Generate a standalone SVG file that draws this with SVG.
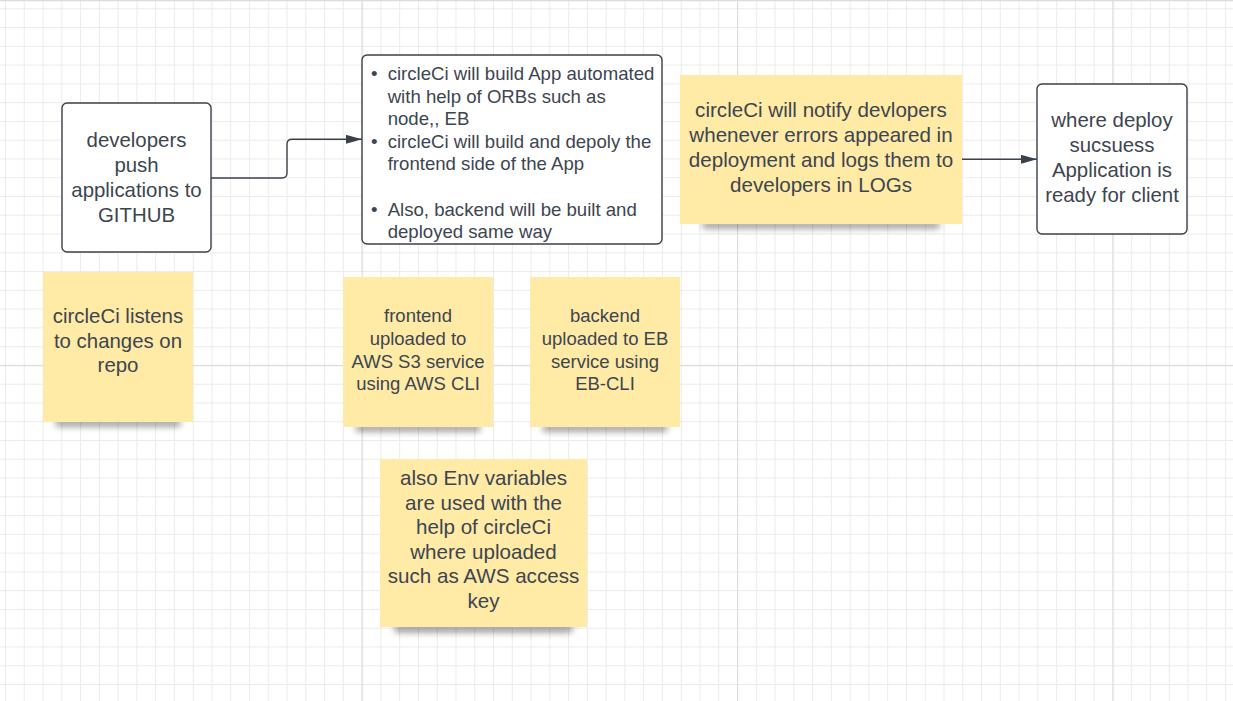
<svg xmlns="http://www.w3.org/2000/svg" width="1233" height="701" viewBox="0 0 1233 701">
<style>
.t{font-family:"Liberation Sans",Arial,sans-serif;fill:#3d4550;text-anchor:middle}
.b{font-family:"Liberation Sans",Arial,sans-serif;fill:#3d4550;font-size:18.6px}
.box{fill:#ffffff;stroke:#3a414a;stroke-width:1.4}
.sticky{fill:#ffeaa6}
.shadow{fill:#000;opacity:0.35;filter:url(#blur)}
.conn{fill:none;stroke:#3a414a;stroke-width:1.4}
</style>
<defs>
<pattern id="minor" patternUnits="userSpaceOnUse" x="5" y="8.3" width="18.77" height="18.77">
<path d="M0.5,0 V18.77 M0,0.5 H18.77" fill="none" stroke="#ebebeb" stroke-width="1"/>
</pattern>
<pattern id="major" patternUnits="userSpaceOnUse" x="361.6" y="364.9" width="375.4" height="375.4">
<path d="M0.5,0 V375.4 M0,0.5 H375.4" fill="none" stroke="#dcdcdc" stroke-width="1.3"/>
</pattern>
<filter id="blur" x="-20%" y="-150%" width="140%" height="400%">
<feGaussianBlur stdDeviation="3"/>
</filter>
<marker id="arrow" markerUnits="userSpaceOnUse" markerWidth="17" markerHeight="10" refX="16" refY="4.5" orient="auto">
<path d="M0,0 L16,4.5 L0,9 Z" fill="#3a414a"/>
</marker>
</defs>
<rect width="1233" height="701" fill="#ffffff"/>
<rect width="1233" height="701" fill="url(#minor)"/>
<rect width="1233" height="701" fill="url(#major)"/>
<line x1="0" y1="0.5" x2="1233" y2="0.5" stroke="#dcdcdc" stroke-width="1.5"/>

<g id="connectors">
<path class="conn" d="M211,178 H282 Q287,178 287,173 V144.3 Q287,139.3 292,139.3 H362" marker-end="url(#arrow)"/>
<path class="conn" d="M962,159.3 H1037" marker-end="url(#arrow)"/>
</g>

<g id="developers">
<rect class="box" x="62" y="103" width="149" height="149" rx="5"/>
<text class="t" font-size="20.4"><tspan x="136.5" y="146.7">developers</tspan><tspan x="136.5" y="171.5">push</tspan><tspan x="136.5" y="196.5">applications to</tspan><tspan x="136.5" y="221.5">GITHUB</tspan></text>
</g>

<g id="circleci-build">
<rect class="box" x="362" y="55" width="300" height="189" rx="5"/>
<text class="b"><tspan x="371" y="80">•</tspan><tspan x="387.7" y="80">circleCi will build App automated</tspan><tspan x="387.7" y="102.6">with help of ORBs such as</tspan><tspan x="387.7" y="125.2">node,, EB</tspan><tspan x="371" y="147.8">•</tspan><tspan x="387.7" y="147.8">circleCi will build and depoly the</tspan><tspan x="387.7" y="170.4">frontend side of the App</tspan><tspan x="371" y="215.6">•</tspan><tspan x="387.7" y="215.6">Also, backend will be built and</tspan><tspan x="387.7" y="238.2">deployed same way</tspan></text>
</g>

<g id="notify">
<rect class="shadow" x="702" y="221" width="238" height="8" rx="4"/>
<rect class="sticky" x="680" y="75" width="282" height="149"/>
<text class="t" font-size="20.6"><tspan x="821" y="117.3">circleCi will notify devlopers</tspan><tspan x="821" y="142.3">whenever errors appeared in</tspan><tspan x="821" y="167.3">deployment and logs them to</tspan><tspan x="821" y="192.3">developers in LOGs</tspan></text>
</g>

<g id="ready">
<rect class="box" x="1037" y="84" width="150" height="150" rx="5"/>
<text class="t" font-size="20.4"><tspan x="1112" y="126.7">where deploy</tspan><tspan x="1112" y="151.7">sucsuess</tspan><tspan x="1112" y="176.7">Application is</tspan><tspan x="1112" y="201.7">ready for client</tspan></text>
</g>

<g id="listens">
<rect class="shadow" x="55" y="419" width="126" height="8" rx="4"/>
<rect class="sticky" x="43" y="272" width="150" height="150"/>
<text class="t" font-size="20.4"><tspan x="118" y="323.3">circleCi listens</tspan><tspan x="118" y="347.8">to changes on</tspan><tspan x="118" y="372.3">repo</tspan></text>
</g>

<g id="frontend">
<rect class="shadow" x="355" y="424" width="126" height="8" rx="4"/>
<rect class="sticky" x="343" y="277" width="150" height="150"/>
<text class="t" font-size="18.5"><tspan x="418" y="322.3">frontend</tspan><tspan x="418" y="345">uploaded to</tspan><tspan x="418" y="367.5">AWS S3 service</tspan><tspan x="418" y="390">using AWS CLI</tspan></text>
</g>

<g id="backend">
<rect class="shadow" x="542" y="424" width="126" height="8" rx="4"/>
<rect class="sticky" x="530" y="277" width="150" height="150"/>
<text class="t" font-size="18.5"><tspan x="605" y="322.3">backend</tspan><tspan x="605" y="345">uploaded to EB</tspan><tspan x="605" y="367.5">service using</tspan><tspan x="605" y="390">EB-CLI</tspan></text>
</g>

<g id="env">
<rect class="shadow" x="394" y="624" width="179" height="9" rx="4"/>
<rect class="sticky" x="380" y="459" width="207" height="168"/>
<text class="t" font-size="20.6"><tspan x="483.5" y="485">also Env variables</tspan><tspan x="483.5" y="509.6">are used with the</tspan><tspan x="483.5" y="534.2">help of circleCi</tspan><tspan x="483.5" y="558.8">where uploaded</tspan><tspan x="483.5" y="583.4">such as AWS access</tspan><tspan x="483.5" y="608">key</tspan></text>
</g>
</svg>
